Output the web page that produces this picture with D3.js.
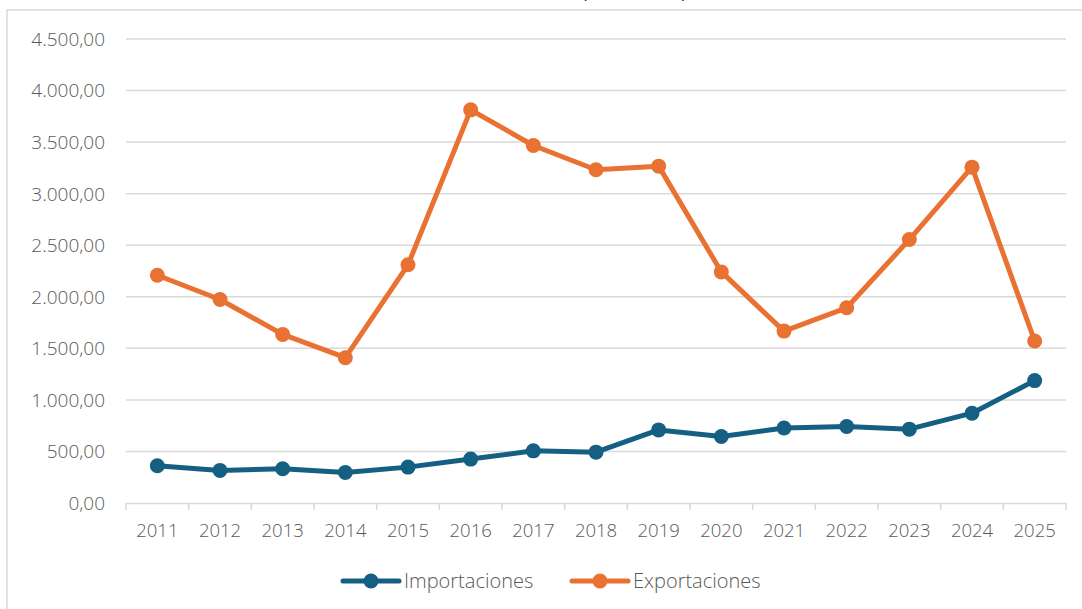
<!DOCTYPE html>
<html>
<head>
<meta charset="utf-8">
<script src="https://cdn.jsdelivr.net/npm/d3@7"></script>
<style>
  body { margin: 0; background: #fff; }
  svg { display: block; font-family: "Open Sans", Lato, sans-serif; font-weight: 300; }
</style>
</head>
<body>
<div id="chart"></div>
<script>
// data
var years = ["2011","2012","2013","2014","2015","2016","2017","2018","2019","2020","2021","2022","2023","2024","2025"];
var importaciones = [361, 316, 332, 296, 348, 426, 506, 493, 709, 645, 728, 742, 716, 871, 1187];
var exportaciones = [2209, 1974, 1635, 1409, 2310, 3813, 3467, 3232, 3267, 2241, 1667, 1893, 2555, 3257, 1571];
var yTicks = [0, 500, 1000, 1500, 2000, 2500, 3000, 3500, 4000, 4500];
var seriesNames = ["Importaciones", "Exportaciones"];
var colors = ["#156082", "#E97132"];

var W = 1082, H = 609;
var margin = {top: 39, right: 16, bottom: 106, left: 126};
var width = W - margin.left - margin.right;
var height = H - margin.top - margin.bottom;

var svg = d3.select("#chart").append("svg")
    .attr("width", W)
    .attr("height", H);

// chart frame (only partly in view)
svg.append("rect")
    .attr("x", 7).attr("y", 10)
    .attr("width", 1200).attr("height", 700)
    .attr("fill", "none")
    .attr("stroke", "#d9d9d9")
    .attr("stroke-width", 1.5);

// title sits above the view, only its lower edge shows
svg.append("text")
    .attr("x", 582).attr("y", -2)
    .attr("font-size", "17.5px")
    .attr("font-weight", 400)
    .attr("fill", "#222")
    .text("(en millones)");

var g = svg.append("g")
    .attr("transform", "translate(" + margin.left + "," + margin.top + ")");

var x = d3.scaleBand().domain(years).range([0, width]);
var y = d3.scaleLinear().domain([0, 4500]).range([height, 0]);

// gridlines
g.selectAll(".grid").data(yTicks.slice(1)).enter().append("line")
    .attr("x1", 0).attr("x2", width)
    .attr("y1", function (d) { return y(d); })
    .attr("y2", function (d) { return y(d); })
    .attr("stroke", "#d9d9d9")
    .attr("stroke-width", 1.5);

// y labels
var fmt = function (d) {
    var s = d3.format(",.2f")(d);
    return s.replace(/,/g, "#").replace(".", ",").replace(/#/g, ".");
};
g.selectAll(".ylab").data(yTicks).enter().append("text")
    .attr("x", -21)
    .attr("y", function (d) { return y(d); })
    .attr("dy", "0.36em")
    .attr("text-anchor", "end")
    .attr("font-size", "19px")
    .attr("fill", "#595959")
    .text(fmt);

// x axis
var xAxis = g.append("g")
    .attr("transform", "translate(0," + height + ")")
    .call(d3.axisBottom(x).tickSize(0).tickPadding(21));
xAxis.select(".domain").attr("stroke", "#d9d9d9").attr("stroke-width", 1.5);
xAxis.selectAll("text")
    .attr("font-size", "18.5px")
    .attr("font-family", "'Open Sans', sans-serif")
    .attr("font-weight", 300)
    .attr("fill", "#595959");

// ticks on band edges
var edges = years.map(function (d) { return x(d); }).concat([width]);
xAxis.selectAll(".edge").data(edges).enter().append("line")
    .attr("x1", function (d) { return d; })
    .attr("x2", function (d) { return d; })
    .attr("y1", 0).attr("y2", 7)
    .attr("stroke", "#d9d9d9")
    .attr("stroke-width", 1.5);

// lines + markers
var line = d3.line()
    .x(function (d, i) { return x(years[i]) + x.bandwidth() / 2; })
    .y(function (d) { return y(d); });

[importaciones, exportaciones].forEach(function (vals, k) {
    g.append("path")
        .datum(vals)
        .attr("d", line)
        .attr("fill", "none")
        .attr("stroke", colors[k])
        .attr("stroke-width", 5)
        .attr("stroke-linejoin", "round");
    g.selectAll(".pt" + k).data(vals).enter().append("circle")
        .attr("cx", function (d, i) { return x(years[i]) + x.bandwidth() / 2; })
        .attr("cy", function (d) { return y(d); })
        .attr("r", 7.5)
        .attr("fill", colors[k]);
});

// legend
var legendX = [343, 572];
var leg = svg.selectAll(".leg").data(seriesNames).enter().append("g")
    .attr("transform", function (d, i) { return "translate(" + legendX[i] + ",581)"; });
leg.append("line")
    .attr("x1", 0).attr("x2", 56)
    .attr("stroke", function (d, i) { return colors[i]; })
    .attr("stroke-width", 5)
    .attr("stroke-linecap", "round");
leg.append("circle")
    .attr("cx", 28).attr("r", 7.5)
    .attr("fill", function (d, i) { return colors[i]; });
leg.append("text")
    .attr("x", 61).attr("dy", "0.36em")
    .attr("font-size", "20px")
    .attr("fill", "#595959")
    .text(function (d) { return d; });
</script>
</body>
</html>
